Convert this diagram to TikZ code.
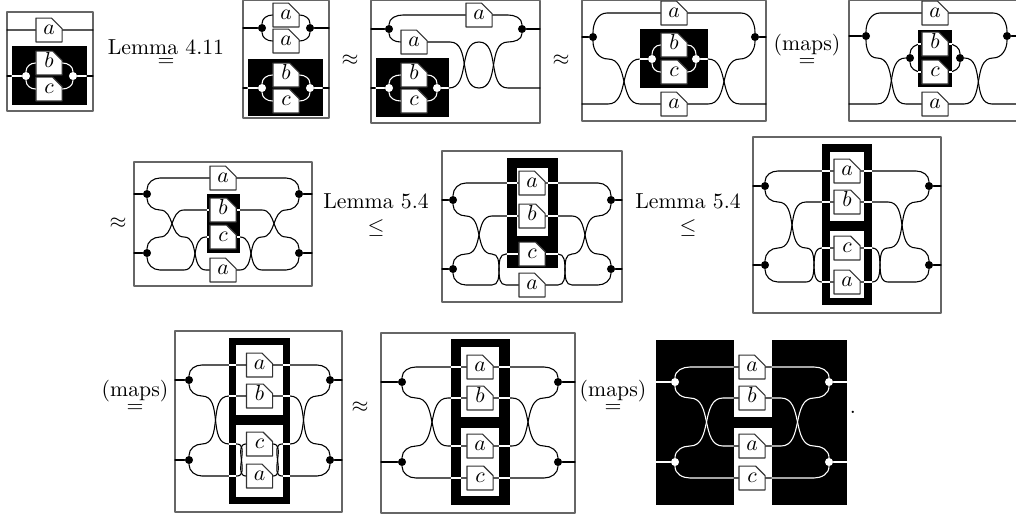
\documentclass[tikz,border=0pt]{standalone}
\usetikzlibrary{shapes.misc}
\begin{document}
\begin{tikzpicture}[line cap=round,line join=round,x=0.46pt,y=0.46pt,
frm/.style={draw=wwwwww,line width=0.55pt},
wire/.style={line width=0.5pt},
inv/.style={line width=0.5pt,white},
gap/.style={line width=0.6pt,white,line cap=butt},
tag/.style={chamfered rectangle,chamfered rectangle corners=north east,chamfered rectangle xsep=3pt,chamfered rectangle ysep=3pt,draw=qqqqqq,fill=white,line width=0.5pt,inner sep=0pt,minimum width=12pt,minimum height=11pt,text height=4.4pt,text depth=0pt},
dot/.style={circle,fill=black,inner sep=0pt,minimum size=3.7pt},
wdot/.style={circle,fill=white,inner sep=0pt,minimum size=3.7pt},
rel/.style={inner sep=0pt}]
\definecolor{wwwwww}{rgb}{0.4,0.4,0.4}
\definecolor{qqqqqq}{rgb}{0.2,0.2,0.2}
\useasboundingbox (0,0) rectangle (1016,-515);
\coordinate (f1sw) at (7,-111);
\coordinate (f1ne) at (93,-12);
\coordinate (k1sw) at (12,-105);
\coordinate (k1ne) at (87,-46);
\draw[frm] (f1sw) rectangle (f1ne);
\fill (k1sw) rectangle (k1ne);
\node[tag] (a1) at (49,-30) {$a$};
\node[tag] (b1) at (49,-63) {$b$};
\node[tag] (c1) at (49,-89) {$c$};
\node[wdot] (wl1) at (26,-76) {};
\node[wdot] (wr1) at (73,-76) {};
\draw[wire] (f1sw |- a1) -- (a1) -- (f1ne |- a1);
\draw[wire] (f1sw |- wl1) -- (k1sw |- wl1);
\draw[inv] (k1sw |- wl1) -- (wl1);
\draw[inv] (wl1) to[out=90,in=180] (b1.west);
\draw[inv] (wl1) to[out=-90,in=180] (c1.west);
\draw[inv] (b1.east) to[out=0,in=90] (wr1);
\draw[inv] (c1.east) to[out=0,in=-90] (wr1);
\draw[inv] (wr1) -- (k1ne |- wr1);
\draw[wire] (k1ne |- wr1) -- (f1ne |- wr1);
\node[rel] (t1) at (166,-47) {Lemma\ 4.11};
\node[rel] (e1) at (166,-63) {$=$};
\coordinate (f2sw) at (243,-118);
\coordinate (f2ne) at (329,-0.5);
\coordinate (k2sw) at (248,-116);
\coordinate (k2ne) at (323,-59);
\draw[frm] (f2sw) rectangle (f2ne);
\fill (k2sw) rectangle (k2ne);
\node[tag] (at2) at (286,-15) {$a$};
\node[tag] (ab2) at (286,-41) {$a$};
\node[tag] (b2) at (286,-75) {$b$};
\node[tag] (c2) at (286,-101) {$c$};
\node[dot] (dl2) at (262,-28) {};
\node[dot] (dr2) at (310,-28) {};
\node[wdot] (wl2) at (262,-88) {};
\node[wdot] (wr2) at (310,-88) {};
\draw[wire] (f2sw |- dl2) -- (dl2);
\draw[wire] (dl2) to[out=90,in=180] (at2.west);
\draw[wire] (dl2) to[out=-90,in=180] (ab2.west);
\draw[wire] (at2.east) to[out=0,in=90] (dr2);
\draw[wire] (ab2.east) to[out=0,in=-90] (dr2);
\draw[wire] (dr2) -- (f2ne |- dr2);
\draw[wire] (f2sw |- wl2) -- (k2sw |- wl2);
\draw[inv] (k2sw |- wl2) -- (wl2);
\draw[inv] (wl2) to[out=90,in=180] (b2.west);
\draw[inv] (wl2) to[out=-90,in=180] (c2.west);
\draw[inv] (b2.east) to[out=0,in=90] (wr2);
\draw[inv] (c2.east) to[out=0,in=-90] (wr2);
\draw[inv] (wr2) -- (k2ne |- wr2);
\draw[wire] (k2ne |- wr2) -- (f2ne |- wr2);
\node[rel] (r1) at (350,-60) {$\approx$};
\coordinate (f3sw) at (371,-123);
\coordinate (f3ne) at (540,-0.5);
\coordinate (k3sw) at (376,-117);
\coordinate (k3ne) at (449,-58);
\draw[frm] (f3sw) rectangle (f3ne);
\fill (k3sw) rectangle (k3ne);
\node[tag] (at3) at (479,-15) {$a$};
\node[tag] (ab3) at (414,-42) {$a$};
\node[tag] (b3) at (414,-75) {$b$};
\node[tag] (c3) at (414,-101) {$c$};
\node[dot] (dl3) at (389,-29) {};
\node[dot] (dr3) at (522,-29) {};
\node[wdot] (wl3) at (389,-88) {};
\node[wdot] (wr3) at (437,-88) {};
\draw[wire] (f3sw |- dl3) -- (dl3);
\draw[wire] (dl3) to[out=90,in=180] (403,-15) -- (at3);
\draw[wire] (at3) -- (508,-15) to[out=0,in=90] (dr3);
\draw[wire] (dl3) to[out=-90,in=180] (ab3.west);
\draw[wire] (ab3) -- (450,-42) to[out=0,in=180] (479,-88) to[out=0,in=180] (508,-42) to[out=0,in=-90] (dr3);
\draw[wire] (dr3) -- (f3ne |- dr3);
\draw[wire] (f3sw |- wl3) -- (k3sw |- wl3);
\draw[inv] (k3sw |- wl3) -- (wl3);
\draw[inv] (wl3) to[out=90,in=180] (b3.west);
\draw[inv] (wl3) to[out=-90,in=180] (c3.west);
\draw[inv] (b3.east) to[out=0,in=90] (wr3);
\draw[inv] (c3.east) to[out=0,in=-90] (wr3);
\draw[inv] (wr3) -- (k3ne |- wr3);
\draw[wire] (k3ne |- wr3) to[out=0,in=180] (479,-42) to[out=0,in=180] (508,-88) -- (f3ne |- wr3);
\node[rel] (r2) at (561,-60) {$\approx$};
\coordinate (f4sw) at (582,-121);
\coordinate (f4ne) at (766,-0.5);
\coordinate (k4sw) at (640,-88);
\coordinate (k4ne) at (708,-29);
\draw[frm] (f4sw) rectangle (f4ne);
\fill (k4sw) rectangle (k4ne);
\node[tag] (at4) at (674,-13) {$a$};
\node[tag] (ab4) at (674,-104) {$a$};
\node[tag] (b4) at (674,-45) {$b$};
\node[tag] (c4) at (674,-72) {$c$};
\node[dot] (dl4) at (593,-37) {};
\node[dot] (dr4) at (755,-37) {};
\node[wdot] (wl4) at (652,-59) {};
\node[wdot] (wr4) at (696,-59) {};
\draw[wire] (f4sw |- dl4) -- (dl4);
\draw[wire] (dl4) to[out=90,in=180] (607,-13) -- (at4);
\draw[wire] (at4) -- (741,-13) to[out=0,in=90] (dr4);
\draw[wire] (dr4) -- (f4ne |- dr4);
\draw[wire] (dl4) to[out=-90,in=180] (608,-59) to[out=0,in=180] (640,-104) -- (ab4);
\draw[wire] (f4sw |- ab4) -- (608,-104) to[out=0,in=180] (k4sw |- wl4);
\draw[inv] (k4sw |- wl4) -- (wl4);
\draw[inv] (wl4) to[out=90,in=180] (b4.west);
\draw[inv] (wl4) to[out=-90,in=180] (c4.west);
\draw[inv] (b4.east) to[out=0,in=90] (wr4);
\draw[inv] (c4.east) to[out=0,in=-90] (wr4);
\draw[inv] (wr4) -- (k4ne |- wr4);
\draw[wire] (k4ne |- wr4) to[out=0,in=180] (740,-104) -- (f4ne |- ab4);
\draw[wire] (ab4) -- (708,-104) to[out=0,in=180] (740,-59) to[out=0,in=-90] (dr4);
\node[rel] (t2) at (807,-45) {(maps)};
\node[rel] (e2) at (807,-63) {$=$};
\coordinate (f5sw) at (849,-121);
\coordinate (f5ne) at (1020,-0.5);
\coordinate (k5sw) at (918,-87);
\coordinate (k5ne) at (952,-30);
\draw[frm] (f5sw) rectangle (f5ne);
\fill (k5sw) rectangle (k5ne);
\node[tag] (at5) at (935,-13) {$a$};
\node[tag] (ab5) at (935,-104) {$a$};
\node[tag] (b5) at (935,-44) {$b$};
\node[tag] (c5) at (935,-72) {$c$};
\node[dot] (dl5) at (866,-36) {};
\node[dot] (dr5) at (1007,-36) {};
\node[dot] (il5) at (910,-58) {};
\node[dot] (ir5) at (960,-58) {};
\draw[wire] (f5sw |- dl5) -- (dl5);
\draw[wire] (dl5) to[out=90,in=180] (880,-13) -- (at5);
\draw[wire] (at5) -- (993,-13) to[out=0,in=90] (dr5);
\draw[wire] (dr5) -- (f5ne |- dr5);
\draw[wire] (dl5) to[out=-90,in=180] (877,-58) to[out=0,in=180] (906,-104) -- (ab5);
\draw[wire] (f5sw |- ab5) -- (877,-104) to[out=0,in=180] (il5);
\draw[wire] (il5) to[out=90,in=180] (b5.west);
\draw[wire] (il5) to[out=-90,in=180] (c5.west);
\draw[wire] (b5.east) to[out=0,in=90] (ir5);
\draw[wire] (c5.east) to[out=0,in=-90] (ir5);
\draw[wire] (ir5) to[out=0,in=180] (992,-104) -- (f5ne |- ab5);
\draw[wire] (ab5) -- (964,-104) to[out=0,in=180] (993,-58) to[out=0,in=-90] (dr5);
\draw[gap] (k5sw |- b5) -- (b5.west) (k5sw |- c5) -- (c5.west) (b5.east) -- (k5ne |- b5) (c5.east) -- (k5ne |- c5);
\node[rel] (r3) at (118,-223) {$\approx$};
\coordinate (f6sw) at (134,-286);
\coordinate (f6ne) at (312,-162);
\coordinate (k6sw) at (207,-253);
\coordinate (k6ne) at (240,-194);
\draw[frm] (f6sw) rectangle (f6ne);
\fill (k6sw) rectangle (k6ne);
\node[tag] (at6) at (223,-178) {$a$};
\node[tag] (b6) at (223,-210) {$b$};
\node[tag] (c6) at (223,-237) {$c$};
\node[tag] (ab6) at (223,-270) {$a$};
\node[dot] (dtl6) at (147,-194) {};
\node[dot] (dbl6) at (147,-253) {};
\node[dot] (dtr6) at (299,-194) {};
\node[dot] (dbr6) at (299,-253) {};
\draw[wire] (f6sw |- dtl6) -- (dtl6);
\draw[wire] (f6sw |- dbl6) -- (dbl6);
\draw[wire] (dtl6) to[out=90,in=180] (160,-178) -- (at6);
\draw[wire] (dtl6) to[out=-90,in=180] (160,-210) to[out=0,in=180] (184,-237) to[out=0,in=180] (206,-270) -- (ab6);
\draw[wire] (dbl6) to[out=90,in=180] (160,-237) to[out=0,in=180] (184,-210) -- (b6);
\draw[wire] (dbl6) to[out=-90,in=180] (160,-270) -- (184,-270) to[out=0,in=180] (206,-237) -- (c6);
\draw[wire] (at6) -- (286,-178) to[out=0,in=90] (dtr6);
\draw[wire] (b6) -- (262,-210) to[out=0,in=180] (286,-237) to[out=0,in=90] (dbr6);
\draw[wire] (c6) -- (240,-237) to[out=0,in=180] (262,-270) -- (286,-270) to[out=0,in=-90] (dbr6);
\draw[wire] (ab6) -- (240,-270) to[out=0,in=180] (262,-237) to[out=0,in=180] (286,-210) to[out=0,in=-90] (dtr6);
\draw[wire] (dtr6) -- (f6ne |- dtr6);
\draw[wire] (dbr6) -- (f6ne |- dbr6);
\draw[gap] (k6sw |- b6) -- (b6.west) (k6sw |- c6) -- (c6.west) (b6.east) -- (k6ne |- b6) (c6.east) -- (k6ne |- c6);
\node[rel] (t3) at (376,-201) {Lemma 5.4};
\node[rel] (e3) at (376,-228) {$\leq$};
\coordinate (f7sw) at (442,-302);
\coordinate (f7ne) at (622,-151);
\coordinate (k7sw) at (507,-268);
\coordinate (k7ne) at (558,-158);
\coordinate (w7sw) at (517,-236);
\coordinate (w7ne) at (548,-168);
\draw[frm] (f7sw) rectangle (f7ne);
\fill (k7sw) rectangle (k7ne);
\fill[white] (w7sw) rectangle (w7ne);
\node[tag] (at7) at (532,-183) {$a$};
\node[tag] (b7) at (532,-216) {$b$};
\node[tag] (c7) at (532,-254) {$c$};
\node[tag] (ab7) at (532,-285) {$a$};
\node[dot] (dtl7) at (453,-200) {};
\node[dot] (dbl7) at (453,-269) {};
\node[dot] (dtr7) at (611,-200) {};
\node[dot] (dbr7) at (611,-269) {};
\draw[wire] (f7sw |- dtl7) -- (dtl7);
\draw[wire] (f7sw |- dbl7) -- (dbl7);
\draw[wire] (dtl7) to[out=90,in=180] (466,-183) -- (at7);
\draw[wire] (dtl7) to[out=-90,in=180] (466,-216) to[out=0,in=180] (492,-254) to[out=0,in=180] (506,-285) -- (ab7);
\draw[wire] (dbl7) to[out=90,in=180] (466,-254) to[out=0,in=180] (492,-216) -- (b7);
\draw[wire] (dbl7) to[out=-90,in=180] (466,-285) -- (492,-285) to[out=0,in=180] (506,-254) -- (c7);
\draw[wire] (at7) -- (598,-183) to[out=0,in=90] (dtr7);
\draw[wire] (b7) -- (572,-216) to[out=0,in=180] (598,-254) to[out=0,in=90] (dbr7);
\draw[wire] (c7) -- (558,-254) to[out=0,in=180] (572,-285) -- (598,-285) to[out=0,in=-90] (dbr7);
\draw[wire] (ab7) -- (558,-285) to[out=0,in=180] (572,-254) to[out=0,in=180] (598,-216) to[out=0,in=-90] (dtr7);
\draw[wire] (dtr7) -- (f7ne |- dtr7);
\draw[wire] (dbr7) -- (f7ne |- dbr7);
\draw[gap] (k7sw |- at7) -- (w7sw |- at7) (k7sw |- b7) -- (w7sw |- b7) (k7sw |- c7) -- (c7.west) (w7ne |- at7) -- (k7ne |- at7) (w7ne |- b7) -- (k7ne |- b7) (c7.east) -- (k7ne |- c7);
\node[rel] (t4) at (688,-201) {Lemma 5.4};
\node[rel] (e4) at (688,-228) {$\leq$};
\coordinate (f8sw) at (753,-313);
\coordinate (f8ne) at (941,-137);
\coordinate (k8sw) at (822,-305);
\coordinate (k8ne) at (872,-144);
\coordinate (u8sw) at (830,-221);
\coordinate (u8ne) at (864,-152);
\coordinate (v8sw) at (830,-298);
\coordinate (v8ne) at (864,-231);
\draw[frm] (f8sw) rectangle (f8ne);
\fill (k8sw) rectangle (k8ne);
\fill[white] (u8sw) rectangle (u8ne);
\fill[white] (v8sw) rectangle (v8ne);
\node[tag] (at8) at (847,-171) {$a$};
\node[tag] (b8) at (847,-202) {$b$};
\node[tag] (c8) at (847,-248) {$c$};
\node[tag] (ab8) at (847,-282) {$a$};
\node[dot] (dtl8) at (765,-186) {};
\node[dot] (dbl8) at (765,-265) {};
\node[dot] (dtr8) at (929,-186) {};
\node[dot] (dbr8) at (929,-265) {};
\draw[wire] (f8sw |- dtl8) -- (dtl8);
\draw[wire] (f8sw |- dbl8) -- (dbl8);
\draw[wire] (dtl8) to[out=90,in=180] (778,-171) -- (at8);
\draw[wire] (dtl8) to[out=-90,in=180] (778,-202) to[out=0,in=180] (806,-248) to[out=0,in=180] (822,-282) -- (ab8);
\draw[wire] (dbl8) to[out=90,in=180] (778,-248) to[out=0,in=180] (806,-202) -- (b8);
\draw[wire] (dbl8) to[out=-90,in=180] (778,-282) -- (806,-282) to[out=0,in=180] (822,-248) -- (c8);
\draw[wire] (at8) -- (916,-171) to[out=0,in=90] (dtr8);
\draw[wire] (b8) -- (888,-202) to[out=0,in=180] (916,-248) to[out=0,in=90] (dbr8);
\draw[wire] (c8) -- (872,-248) to[out=0,in=180] (888,-282) -- (916,-282) to[out=0,in=-90] (dbr8);
\draw[wire] (ab8) -- (872,-282) to[out=0,in=180] (888,-248) to[out=0,in=180] (916,-202) to[out=0,in=-90] (dtr8);
\draw[wire] (dtr8) -- (f8ne |- dtr8);
\draw[wire] (dbr8) -- (f8ne |- dbr8);
\draw[gap] (k8sw |- at8) -- (u8sw |- at8) (k8sw |- b8) -- (u8sw |- b8) (k8sw |- c8) -- (u8sw |- c8) (k8sw |- ab8) -- (u8sw |- ab8) (u8ne |- at8) -- (k8ne |- at8) (u8ne |- b8) -- (k8ne |- b8) (u8ne |- c8) -- (k8ne |- c8) (u8ne |- ab8) -- (k8ne |- ab8);
\node[rel] (t5) at (135,-391) {(maps)};
\node[rel] (e5) at (135,-409) {$=$};
\coordinate (f9sw) at (175,-512);
\coordinate (f9ne) at (342,-331);
\coordinate (k9sw) at (229,-504);
\coordinate (k9ne) at (290,-338);
\coordinate (u9sw) at (236,-415);
\coordinate (u9ne) at (283,-345);
\coordinate (v9sw) at (236,-497);
\coordinate (v9ne) at (283,-425);
\draw[frm] (f9sw) rectangle (f9ne);
\fill (k9sw) rectangle (k9ne);
\fill[white] (u9sw) rectangle (u9ne);
\fill[white] (v9sw) rectangle (v9ne);
\node[tag] (at9) at (259.5,-365) {$a$};
\node[tag] (b9) at (259.5,-396) {$b$};
\node[tag] (c9) at (259.5,-444) {$c$};
\node[tag] (ab9) at (259.5,-476) {$a$};
\node[dot] (dtl9) at (189,-380) {};
\node[dot] (dbl9) at (189,-460) {};
\node[dot] (dtr9) at (330,-380) {};
\node[dot] (dbr9) at (330,-460) {};
\draw[wire] (f9sw |- dtl9) -- (dtl9);
\draw[wire] (f9sw |- dbl9) -- (dbl9);
\draw[wire] (dtl9) to[out=90,in=180] (202,-365) -- (at9);
\draw[wire] (dtl9) to[out=-90,in=180] (202,-396) to[out=0,in=180] (229,-444) -- (237,-444) to[out=0,in=180] (ab9.west);
\draw[wire] (dbl9) to[out=90,in=180] (202,-444) to[out=0,in=180] (229,-396) -- (b9);
\draw[wire] (dbl9) to[out=-90,in=180] (202,-476) -- (237,-476) to[out=0,in=180] (c9.west);
\draw[wire] (at9) -- (317,-365) to[out=0,in=90] (dtr9);
\draw[wire] (b9) -- (290,-396) to[out=0,in=180] (317,-444) to[out=0,in=90] (dbr9);
\draw[wire] (c9.east) to[out=0,in=180] (282,-476) -- (317,-476) to[out=0,in=-90] (dbr9);
\draw[wire] (ab9.east) to[out=0,in=180] (282,-444) -- (290,-444) to[out=0,in=180] (317,-396) to[out=0,in=-90] (dtr9);
\draw[wire] (dtr9) -- (f9ne |- dtr9);
\draw[wire] (dbr9) -- (f9ne |- dbr9);
\draw[gap] (k9sw |- at9) -- (u9sw |- at9) (k9sw |- b9) -- (u9sw |- b9) (k9sw |- c9) -- (u9sw |- c9) (k9sw |- ab9) -- (u9sw |- ab9) (u9ne |- at9) -- (k9ne |- at9) (u9ne |- b9) -- (k9ne |- b9) (u9ne |- c9) -- (k9ne |- c9) (u9ne |- ab9) -- (k9ne |- ab9);
\node[rel] (r4) at (360,-407) {$\approx$};
\coordinate (f10sw) at (381,-513);
\coordinate (f10ne) at (575,-333);
\coordinate (k10sw) at (451,-505);
\coordinate (k10ne) at (510,-339);
\coordinate (u10sw) at (461,-417);
\coordinate (u10ne) at (499,-347);
\coordinate (v10sw) at (461,-496);
\coordinate (v10ne) at (499,-428);
\draw[frm] (f10sw) rectangle (f10ne);
\fill (k10sw) rectangle (k10ne);
\fill[white] (u10sw) rectangle (u10ne);
\fill[white] (v10sw) rectangle (v10ne);
\node[tag] (at10) at (480,-367) {$a$};
\node[tag] (b10) at (480,-398) {$b$};
\node[tag] (ab10) at (480,-446) {$a$};
\node[tag] (c10) at (480,-478) {$c$};
\node[dot] (dtl10) at (402,-382) {};
\node[dot] (dbl10) at (402,-462) {};
\node[dot] (dtr10) at (558,-382) {};
\node[dot] (dbr10) at (558,-462) {};
\draw[wire] (f10sw |- dtl10) -- (dtl10);
\draw[wire] (f10sw |- dbl10) -- (dbl10);
\draw[wire] (dtl10) to[out=90,in=180] (416,-367) -- (at10);
\draw[wire] (dtl10) to[out=-90,in=180] (416,-398) to[out=0,in=180] (448,-446) -- (ab10);
\draw[wire] (dbl10) to[out=90,in=180] (416,-446) to[out=0,in=180] (448,-398) -- (b10);
\draw[wire] (dbl10) to[out=-90,in=180] (416,-478) -- (c10);
\draw[wire] (at10) -- (544,-367) to[out=0,in=90] (dtr10);
\draw[wire] (b10) -- (512,-398) to[out=0,in=180] (544,-446) to[out=0,in=90] (dbr10);
\draw[wire] (ab10) -- (512,-446) to[out=0,in=180] (544,-398) to[out=0,in=-90] (dtr10);
\draw[wire] (c10) -- (544,-478) to[out=0,in=-90] (dbr10);
\draw[wire] (dtr10) -- (f10ne |- dtr10);
\draw[wire] (dbr10) -- (f10ne |- dbr10);
\draw[gap] (k10sw |- at10) -- (u10sw |- at10) (k10sw |- b10) -- (u10sw |- b10) (k10sw |- ab10) -- (u10sw |- ab10) (k10sw |- c10) -- (u10sw |- c10) (u10ne |- at10) -- (k10ne |- at10) (u10ne |- b10) -- (k10ne |- b10) (u10ne |- ab10) -- (k10ne |- ab10) (u10ne |- c10) -- (k10ne |- c10);
\node[rel] (t6) at (613,-391) {(maps)};
\node[rel] (e6) at (613,-409) {$=$};
\coordinate (k11sw) at (656,-505);
\coordinate (k11ne) at (847,-340);
\coordinate (u11sw) at (734,-417);
\coordinate (u11ne) at (772,-340);
\coordinate (v11sw) at (734,-505);
\coordinate (v11ne) at (772,-428);
\fill (k11sw) rectangle (k11ne);
\fill[white] (u11sw) rectangle (u11ne);
\fill[white] (v11sw) rectangle (v11ne);
\node[tag] (at11) at (752,-367) {$a$};
\node[tag] (b11) at (752,-398) {$b$};
\node[tag] (ab11) at (752,-446) {$a$};
\node[tag] (c11) at (752,-478) {$c$};
\node[wdot] (wtl11) at (675,-382) {};
\node[wdot] (wbl11) at (675,-462) {};
\node[wdot] (wtr11) at (829,-382) {};
\node[wdot] (wbr11) at (829,-462) {};
\draw[inv] (k11sw |- wtl11) -- (wtl11);
\draw[inv] (k11sw |- wbl11) -- (wbl11);
\draw[inv] (wtl11) to[out=90,in=180] (690,-367) -- (u11sw |- at11);
\draw[inv] (wtl11) to[out=-90,in=180] (690,-398) to[out=0,in=180] (723,-446) -- (u11sw |- ab11);
\draw[inv] (wbl11) to[out=90,in=180] (690,-446) to[out=0,in=180] (723,-398) -- (u11sw |- b11);
\draw[inv] (wbl11) to[out=-90,in=180] (690,-478) -- (u11sw |- c11);
\draw[wire] (u11sw |- at11) -- (at11) -- (u11ne |- at11);
\draw[wire] (u11sw |- b11) -- (b11) -- (u11ne |- b11);
\draw[wire] (u11sw |- ab11) -- (ab11) -- (u11ne |- ab11);
\draw[wire] (u11sw |- c11) -- (c11) -- (u11ne |- c11);
\draw[inv] (u11ne |- at11) -- (814,-367) to[out=0,in=90] (wtr11);
\draw[inv] (u11ne |- b11) -- (781,-398) to[out=0,in=180] (814,-446) to[out=0,in=90] (wbr11);
\draw[inv] (u11ne |- ab11) -- (781,-446) to[out=0,in=180] (814,-398) to[out=0,in=-90] (wtr11);
\draw[inv] (u11ne |- c11) -- (814,-478) to[out=0,in=-90] (wbr11);
\draw[inv] (wtr11) -- (k11ne |- wtr11);
\draw[inv] (wbr11) -- (k11ne |- wbr11);
\node[rel] (p1) at (853,-412) {.};
\end{tikzpicture}
\end{document}
